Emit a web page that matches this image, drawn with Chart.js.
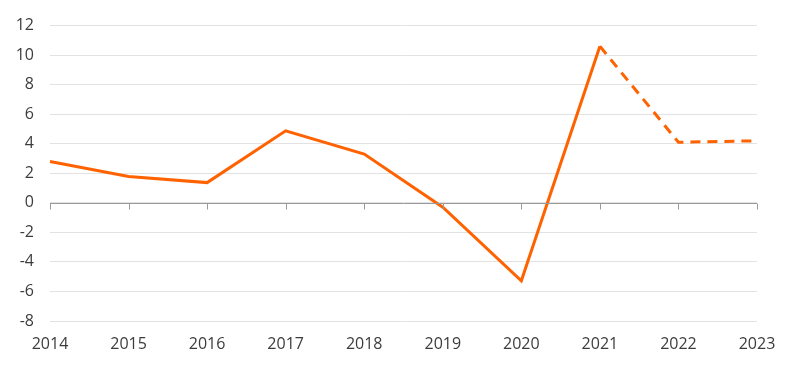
<!DOCTYPE html>
<html lang="en">
<head>
    <meta charset="UTF-8">
    <title>Line Chart</title>
    <script src="https://cdn.jsdelivr.net/npm/chart.js@4.4.1/dist/chart.umd.min.js"></script>
    <style>
        body { margin: 0; background: #fff; }
        #wrap { width: 800px; height: 368px; }
    </style>
</head>
<body>
    <div id="wrap"><canvas id="lineChart"></canvas></div>
    <script>
        const years = ['2014', '2015', '2016', '2017', '2018', '2019', '2020', '2021', '2022', '2023'];
        const growth = [2.8, 1.78, 1.37, 4.88, 3.3, -0.3, -5.28, 10.6, 4.1, 4.2];
        const forecastFrom = 7; // segments after 2021 are forecasts (dashed)
        const yMin = -8, yMax = 12, yStep = 2;

        const orange = '#ff6200';
        const textColor = '#3c3c3c';

        // zero line with little tick marks under each year
        const zeroAxis = {
            id: 'zeroAxis',
            afterDatasetsDraw(chart) {
                const x = chart.scales.x, y = chart.scales.y;
                const y0 = Math.round(y.getPixelForValue(0)) + 0.5;
                const ctx = chart.ctx;
                ctx.save();
                ctx.strokeStyle = '#9a9a9a';
                ctx.lineWidth = 1;
                ctx.beginPath();
                ctx.moveTo(chart.chartArea.left, y0);
                ctx.lineTo(chart.chartArea.right, y0);
                years.forEach((yr, i) => {
                    const px = Math.round(x.getPixelForValue(i)) + 0.5;
                    ctx.moveTo(px, y0);
                    ctx.lineTo(px, y0 + 6);
                });
                ctx.stroke();
                ctx.restore();
            }
        };

        const ctx = document.getElementById('lineChart').getContext('2d');
        new Chart(ctx, {
            type: 'line',
            data: {
                labels: years,
                datasets: [{
                    data: growth,
                    borderColor: orange,
                    borderWidth: 3,
                    pointRadius: 0,
                    tension: 0,
                    segment: {
                        borderDash: c => c.p0DataIndex >= forecastFrom ? [10, 7] : undefined
                    }
                }]
            },
            options: {
                responsive: true,
                maintainAspectRatio: false,
                animation: false,
                layout: { padding: { left: 0, right: 43, top: 12, bottom: 0 } },
                plugins: {
                    legend: { display: false },
                    tooltip: { enabled: false }
                },
                scales: {
                    x: {
                        offset: false,
                        grid: { display: false, drawTicks: false },
                        border: { display: false },
                        ticks: {
                            color: textColor,
                            font: { family: 'Open Sans', size: 16 },
                            padding: 14,
                            maxRotation: 0
                        },
                        afterFit: s => { s.height = 47; }
                    },
                    y: {
                        min: yMin,
                        max: yMax,
                        grid: { color: '#e2e2e2', drawTicks: false },
                        border: { display: false },
                        ticks: {
                            stepSize: yStep,
                            color: textColor,
                            font: { family: 'Open Sans', size: 16 },
                            padding: 16
                        },
                        afterFit: s => { s.width = 50; }
                    }
                }
            },
            plugins: [zeroAxis]
        });
    </script>
</body>
</html>
